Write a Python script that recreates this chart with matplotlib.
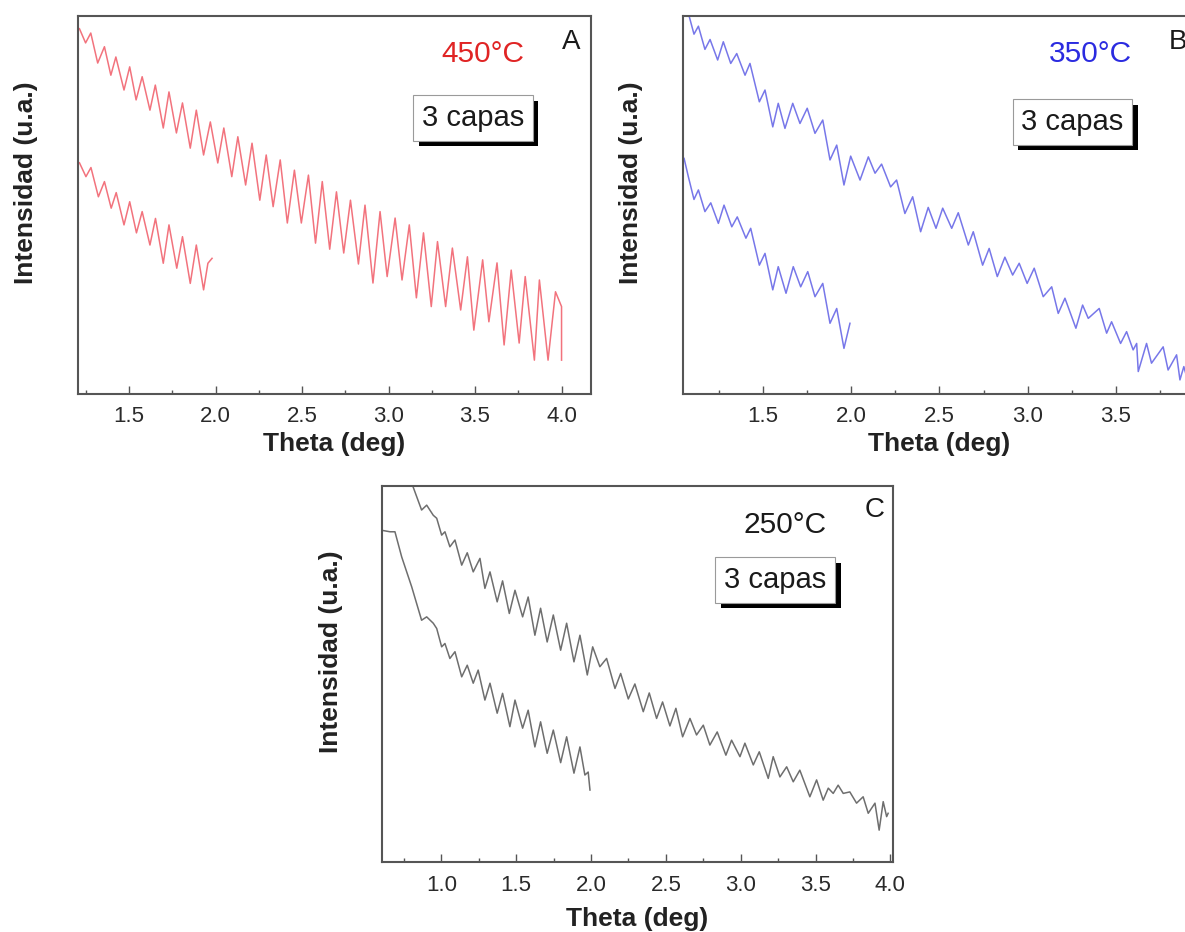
import matplotlib
matplotlib.use('Agg')
import matplotlib.pyplot as plt
from matplotlib.ticker import MultipleLocator
import matplotlib.patheffects as pe

plt.rcParams['font.family'] = ['Liberation Sans', 'DejaVu Sans']

# ---- A: 450 °C (red) ----
a_hi_t = [1.205, 1.213, 1.249, 1.279, 1.319, 1.358, 1.395, 1.424, 1.471, 1.504,
          1.541, 1.576, 1.621, 1.652, 1.698, 1.731, 1.774, 1.809, 1.854, 1.889,
          1.931, 1.970, 2.013, 2.048, 2.094, 2.129, 2.174, 2.211, 2.256, 2.293,
          2.333, 2.374, 2.415, 2.456, 2.496, 2.537, 2.578, 2.617, 2.660, 2.699,
          2.741, 2.780, 2.826, 2.864, 2.910, 2.951, 2.992, 3.038, 3.078, 3.120,
          3.161, 3.202, 3.247, 3.283, 3.330, 3.369, 3.417, 3.456, 3.493, 3.544,
          3.580, 3.627, 3.668, 3.709, 3.755, 3.790, 3.843, 3.872, 3.922, 3.965,
          4.000, 4.000]
a_hi_i = [96.6, 97.0, 93.2, 95.8, 87.9, 92.2, 84.7, 89.5, 80.8, 86.9,
          78.2, 84.3, 75.5, 82.1, 70.8, 80.3, 69.5, 77.4, 65.5, 75.5,
          63.7, 72.4, 61.6, 70.8, 58.0, 68.5, 55.8, 66.8, 51.8, 63.7,
          50.1, 62.4, 45.8, 59.7, 45.8, 58.4, 40.5, 56.7, 38.9, 54.0,
          37.9, 51.8, 35.0, 50.5, 30.0, 48.8, 31.7, 47.1, 30.8, 45.3,
          26.1, 43.2, 23.8, 40.9, 23.8, 39.2, 22.9, 36.9, 17.6, 36.1,
          19.8, 35.3, 13.7, 33.4, 14.2, 31.7, 9.7, 30.8, 9.7, 27.7,
          23.8, 9.7]
a_lo_t = [1.205, 1.213, 1.251, 1.280, 1.323, 1.358, 1.397, 1.426, 1.471, 1.504,
          1.543, 1.576, 1.621, 1.653, 1.698, 1.731, 1.776, 1.809, 1.854, 1.889,
          1.931, 1.956, 1.980]
a_lo_i = [61.5, 61.7, 58.0, 60.4, 52.7, 56.7, 49.7, 53.8, 45.3, 51.4,
          43.2, 48.8, 40.0, 47.0, 35.2, 45.3, 33.9, 42.2, 29.9, 40.0,
          28.2, 35.2, 36.5]

# ---- B: 350 °C (blue) ----
b_hi_t = [1.085, 1.111, 1.136, 1.173, 1.202, 1.245, 1.277, 1.319, 1.353, 1.400,
          1.428, 1.481, 1.513, 1.557, 1.588, 1.626, 1.670, 1.711, 1.752, 1.796,
          1.840, 1.881, 1.919, 1.960, 1.998, 2.051, 2.098, 2.136, 2.173, 2.224,
          2.258, 2.305, 2.349, 2.394, 2.437, 2.481, 2.519, 2.570, 2.607, 2.664,
          2.692, 2.745, 2.782, 2.828, 2.871, 2.915, 2.952, 2.997, 3.037, 3.088,
          3.136, 3.173, 3.211, 3.273, 3.311, 3.343, 3.405, 3.447, 3.475, 3.526,
          3.560, 3.597, 3.617, 3.626, 3.673, 3.701, 3.767, 3.795, 3.843, 3.862,
          3.884, 3.900]
b_hi_i = [100.0, 95.5, 97.6, 91.5, 94.1, 88.7, 93.5, 87.8, 90.4, 84.7,
          87.8, 77.7, 80.8, 71.1, 77.3, 70.7, 77.3, 72.0, 76.0, 69.4,
          72.9, 62.4, 66.3, 55.8, 63.4, 57.1, 63.2, 58.9, 61.3, 55.3,
          57.1, 48.3, 52.7, 43.5, 49.9, 44.4, 49.7, 44.4, 48.5, 40.0,
          43.5, 34.7, 39.1, 31.7, 36.8, 32.1, 35.2, 29.9, 33.9, 26.4,
          29.0, 22.0, 26.0, 18.1, 24.2, 20.7, 23.3, 16.8, 19.8, 14.1,
          17.2, 12.4, 14.1, 6.7, 14.1, 8.9, 13.2, 7.1, 11.1, 4.5,
          8.0, 5.3]
b_lo_t = [1.055, 1.079, 1.111, 1.136, 1.173, 1.206, 1.249, 1.281, 1.325, 1.356,
          1.405, 1.432, 1.481, 1.513, 1.557, 1.588, 1.632, 1.673, 1.715, 1.755,
          1.796, 1.840, 1.881, 1.919, 1.960, 1.994]
b_lo_i = [62.8, 58.0, 52.0, 54.5, 48.8, 51.1, 45.7, 50.5, 44.8, 47.4,
          41.8, 44.4, 34.7, 37.8, 28.2, 34.3, 27.3, 34.3, 29.0, 33.0,
          26.4, 29.9, 19.4, 23.3, 12.8, 19.4]

# ---- C: 250 °C (grey) ----
c_hi_t = [0.812, 0.868, 0.902, 0.946, 0.969, 1.002, 1.024, 1.057, 1.091, 1.136,
          1.173, 1.213, 1.258, 1.291, 1.325, 1.373, 1.409, 1.454, 1.492, 1.543,
          1.580, 1.625, 1.663, 1.707, 1.748, 1.797, 1.837, 1.886, 1.926, 1.975,
          2.011, 2.059, 2.104, 2.160, 2.198, 2.249, 2.293, 2.349, 2.389, 2.438,
          2.478, 2.527, 2.567, 2.612, 2.661, 2.705, 2.750, 2.794, 2.843, 2.901,
          2.939, 2.995, 3.028, 3.084, 3.124, 3.184, 3.217, 3.262, 3.307, 3.351,
          3.395, 3.462, 3.507, 3.551, 3.585, 3.618, 3.651, 3.685, 3.729, 3.774,
          3.818, 3.852, 3.897, 3.925, 3.952, 3.975, 3.985]
c_hi_i = [100.0, 93.9, 95.2, 92.5, 91.7, 87.2, 88.1, 84.1, 85.9, 79.2,
          82.5, 77.4, 81.0, 73.0, 77.4, 69.4, 75.0, 66.3, 72.5, 65.4,
          70.7, 60.5, 67.7, 58.7, 65.9, 56.5, 63.7, 53.4, 60.5, 49.9,
          57.4, 52.1, 54.3, 46.3, 50.3, 43.5, 47.5, 40.1, 45.1, 38.3,
          42.7, 36.3, 41.0, 33.4, 38.3, 33.9, 36.5, 31.2, 34.7, 28.5,
          32.5, 28.1, 31.7, 25.9, 29.4, 22.3, 28.1, 22.7, 25.4, 21.4,
          24.5, 17.4, 21.9, 16.5, 19.7, 18.3, 20.5, 18.3, 18.7, 15.7,
          17.4, 13.0, 15.7, 8.5, 16.1, 12.1, 13.0]
c_lo_t = [0.601, 0.657, 0.690, 0.735, 0.802, 0.868, 0.902, 0.946, 0.969, 1.002,
          1.024, 1.057, 1.091, 1.136, 1.173, 1.213, 1.246, 1.291, 1.325, 1.373,
          1.409, 1.458, 1.492, 1.543, 1.580, 1.625, 1.663, 1.707, 1.748, 1.797,
          1.837, 1.886, 1.926, 1.959, 1.981, 1.993]
c_lo_i = [88.5, 88.1, 88.1, 81.4, 73.4, 64.5, 65.4, 63.7, 62.3, 57.4,
          58.3, 54.3, 56.1, 49.4, 52.5, 47.7, 51.2, 43.2, 47.7, 39.7,
          45.0, 36.1, 43.2, 35.7, 40.5, 30.7, 37.4, 29.0, 35.2, 26.5,
          33.4, 23.7, 30.7, 23.2, 24.0, 19.2]

RED, BLUE, GREY = '#ee4452', '#4a4ae2', '#4a4a4a'

fig = plt.figure(figsize=(11.85, 9.32), dpi=100)
axA = fig.add_axes([0.0658, 0.5773, 0.4329, 0.4056])
axB = fig.add_axes([0.5761, 0.5773, 0.4329, 0.4056])
axC = fig.add_axes([0.3223, 0.0751, 0.4311, 0.4034])


def style(ax, xlim, ylim, xl_y):
    ax.set_xlim(*xlim)
    ax.set_ylim(*ylim)
    ax.xaxis.set_major_locator(MultipleLocator(0.5))
    ax.xaxis.set_minor_locator(MultipleLocator(0.25))
    ax.tick_params(axis='x', which='both', direction='in', top=False,
                   labelsize=16, labelcolor='#2a2a2a', color='#555555', pad=9)
    ax.tick_params(axis='x', which='major', length=6, width=1.0)
    ax.tick_params(axis='x', which='minor', length=3, width=1.0)
    ax.tick_params(axis='y', left=False, labelleft=False)
    for s in ax.spines.values():
        s.set_color('#555555')
        s.set_linewidth(1.5)
    ax.set_xlabel('Theta (deg)', fontsize=19, fontweight='bold', color='#222222')
    ax.xaxis.set_label_coords(0.5, xl_y)
    ax.set_ylabel('Intensidad (u.a.)', fontsize=19, fontweight='bold', color='#222222')
    ax.yaxis.set_label_coords(-0.077, 0.56)


def capas(ax, x, y):
    t = ax.text(x, y, '3 capas', transform=ax.transAxes, fontsize=21,
                ha='center', va='center', color='#1a1a1a',
                bbox=dict(boxstyle='square,pad=0.3', fc='white', ec='#9a9a9a', lw=0.8))
    t.get_bbox_patch().set_path_effects([
        pe.SimplePatchShadow(offset=(4, -4), shadow_rgbFace='black', alpha=1.0),
        pe.Normal()])


# A
axA.plot(a_hi_t, a_hi_i, color=RED, lw=1.1, alpha=0.75, solid_joinstyle='round')
axA.plot(a_lo_t, a_lo_i, color=RED, lw=1.1, alpha=0.75, solid_joinstyle='round')
style(axA, (1.205, 4.17), (0.8, 100.3), -0.1)
axA.text(0.79, 0.9, '450°C', transform=axA.transAxes, fontsize=21.5,
         color='#e02424', ha='center', va='center')
axA.text(0.962, 0.93, 'A', transform=axA.transAxes, fontsize=20,
         color='#1a1a1a', ha='center', va='center')
capas(axA, 0.77, 0.73)

# B
axB.plot(b_hi_t, b_hi_i, color=BLUE, lw=1.1, alpha=0.75, solid_joinstyle='round')
axB.plot(b_lo_t, b_lo_i, color=BLUE, lw=1.1, alpha=0.75, solid_joinstyle='round')
style(axB, (1.047, 3.951), (0.8, 100.3), -0.1)
axB.text(0.795, 0.9, '350°C', transform=axB.transAxes, fontsize=21.5,
         color='#2b2be0', ha='center', va='center')
axB.text(0.965, 0.93, 'B', transform=axB.transAxes, fontsize=20,
         color='#1a1a1a', ha='center', va='center')
capas(axB, 0.76, 0.72)

# C
axC.plot(c_hi_t, c_hi_i, color=GREY, lw=1.1, alpha=0.8, solid_joinstyle='round')
axC.plot(c_lo_t, c_lo_i, color=GREY, lw=1.1, alpha=0.8, solid_joinstyle='round')
style(axC, (0.603, 4.016), (0.0, 100.3), -0.12)
axC.text(0.79, 0.897, '250°C', transform=axC.transAxes, fontsize=21.5,
         color='#1a1a1a', ha='center', va='center')
axC.text(0.965, 0.935, 'C', transform=axC.transAxes, fontsize=20,
         color='#1a1a1a', ha='center', va='center')
capas(axC, 0.77, 0.75)

fig.savefig('out.png', dpi=100)
